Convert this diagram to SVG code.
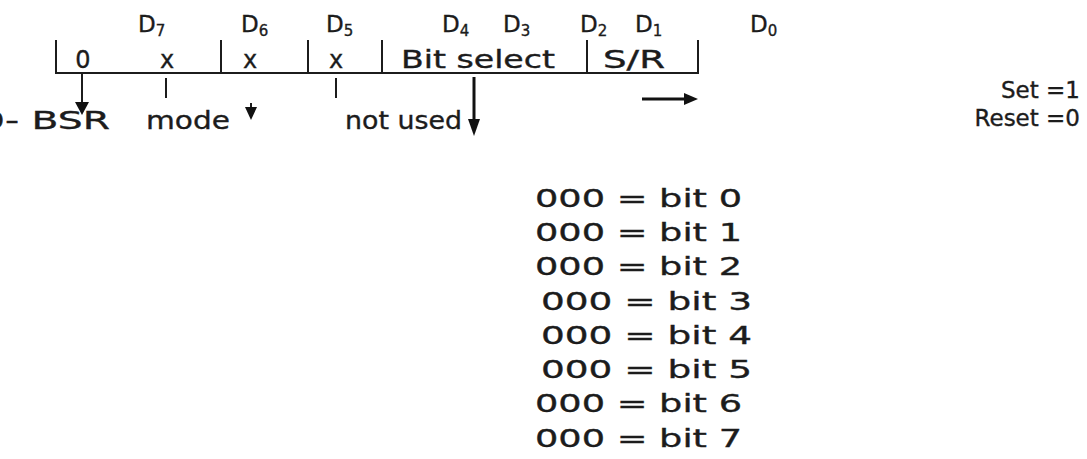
<svg xmlns="http://www.w3.org/2000/svg" width="1087" height="459" viewBox="0 0 1087 459">
<defs>
<style>
text{font-family:"DejaVu Sans","Liberation Sans",sans-serif;fill:#1c1c1c;stroke:#1c1c1c;stroke-width:0.35;font-size:24px}
.d{font-size:23px}
.sub{font-size:15px}
.ln{stroke:#1c1c1c;stroke-width:2;fill:none}
.thick{stroke:#111;stroke-width:3;fill:none}
.head{fill:#111}
.row{font-size:25px}
.sr{font-size:23px}
.lst{font-size:25px}
</style>
</defs>
<rect width="1087" height="459" fill="#fff"/>
<g id="bit-labels">
<text class="d" x="138" y="32">D<tspan class="sub" dy="4">7</tspan></text>
<text class="d" x="241" y="32">D<tspan class="sub" dy="4">6</tspan></text>
<text class="d" x="326" y="32">D<tspan class="sub" dy="4">5</tspan></text>
<text class="d" x="442" y="32">D<tspan class="sub" dy="4">4</tspan></text>
<text class="d" x="503" y="32">D<tspan class="sub" dy="4">3</tspan></text>
<text class="d" x="580" y="32">D<tspan class="sub" dy="4">2</tspan></text>
<text class="d" x="635" y="32">D<tspan class="sub" dy="4">1</tspan></text>
<text class="d" x="750" y="32">D<tspan class="sub" dy="4">0</tspan></text>
</g>
<g id="register">
<path class="ln" d="M56,40 V73 H698 V40 M221,40 V73 M308,40 V73 M382,40 V73 M587,40 V73"/>
<text x="83" y="68" text-anchor="middle">0</text>
<text x="167" y="68" text-anchor="middle">x</text>
<text x="250" y="68" text-anchor="middle">x</text>
<text x="336" y="68" text-anchor="middle">x</text>
<text x="401" y="68" textLength="154" lengthAdjust="spacingAndGlyphs">Bit select</text>
<text x="603" y="68" textLength="62" lengthAdjust="spacingAndGlyphs">S/R</text>
</g>
<g id="connectors">
<path class="ln" d="M82,74 V104"/>
<path class="head" d="M75,102 L89,102 L82,115 Z"/>
<path class="ln" d="M166,78 V98"/>
<path class="ln" d="M251,103 V110"/>
<path class="head" d="M245,107 L257,107 L251,120 Z"/>
<path class="ln" d="M336,78 V98"/>
<path class="thick" d="M474,77 V122"/>
<path class="head" d="M468,119 L480,119 L474,136 Z"/>
<path class="thick" d="M642,99 H686"/>
<path class="head" d="M684,93 L698,99 L684,105 Z"/>
</g>
<g id="mode-label">
<text class="row" x="-20" y="129" textLength="130" lengthAdjust="spacingAndGlyphs">0- BSR</text>
<text class="row" x="146" y="129" textLength="84" lengthAdjust="spacingAndGlyphs">mode</text>
</g>
<g id="not-used-label">
<text class="row" x="345" y="129" textLength="117" lengthAdjust="spacingAndGlyphs">not used</text>
</g>
<g id="sr-label">
<text class="sr" x="1080" y="98" text-anchor="end">Set =1</text>
<text class="sr" x="1080" y="126" text-anchor="end">Reset =0</text>
</g>
<g id="bit-list">
<text class="lst" x="535" y="207" textLength="207" lengthAdjust="spacingAndGlyphs">000 = bit 0</text>
<text class="lst" x="535" y="241" textLength="207" lengthAdjust="spacingAndGlyphs">000 = bit 1</text>
<text class="lst" x="535" y="275" textLength="207" lengthAdjust="spacingAndGlyphs">000 = bit 2</text>
<text class="lst" x="541" y="310" textLength="211" lengthAdjust="spacingAndGlyphs">000 = bit 3</text>
<text class="lst" x="541" y="344" textLength="211" lengthAdjust="spacingAndGlyphs">000 = bit 4</text>
<text class="lst" x="541" y="378" textLength="211" lengthAdjust="spacingAndGlyphs">000 = bit 5</text>
<text class="lst" x="535" y="412" textLength="207" lengthAdjust="spacingAndGlyphs">000 = bit 6</text>
<text class="lst" x="535" y="447" textLength="207" lengthAdjust="spacingAndGlyphs">000 = bit 7</text>
</g>
</svg>
